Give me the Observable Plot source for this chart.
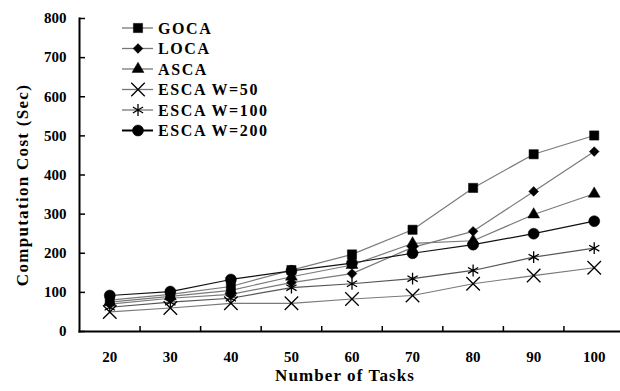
<!DOCTYPE html>
<html><head><meta charset="utf-8">
<script src="https://cdn.jsdelivr.net/npm/d3@7"></script>
<script src="https://cdn.jsdelivr.net/npm/@observablehq/plot@0.6"></script>
<style>
body{margin:0;background:#fff;}
#wrap{position:relative;width:620px;height:391px;}
#wrap svg text{font-family:"Liberation Serif","Times New Roman",serif;font-weight:bold;fill:#000;}
#legend{position:absolute;left:0;top:0;}
</style></head>
<body><div id="wrap"></div>
<script>
const tasks = [20, 30, 40, 50, 60, 70, 80, 90, 100];
const seriesNames = ["GOCA", "LOCA", "ASCA", "ESCA W=50", "ESCA W=100", "ESCA W=200"];
const goca   = [80, 95, 115, 157, 197, 260, 367, 453, 501];
const loca   = [70, 85, 95, 125, 148, 215, 256, 358, 460];
const asca   = [75, 90, 105, 140, 170, 225, 232, 299, 352];
const esca50 = [50, 60, 72, 72, 83, 92, 122, 143, 163];
const esca100= [62, 75, 85, 112, 122, 135, 156, 190, 213];
const esca200= [92, 102, 133, 155, 175, 200, 222, 250, 282];
const yTicks = [0, 100, 200, 300, 400, 500, 600, 700, 800];
const xTitle = "Number of Tasks";
const yTitle = "Computation Cost (Sec)";

const valuesBySeries = [goca, loca, asca, esca50, esca100, esca200];
const symbols = ["square", "diamond2", "triangle", "times", "asterisk", "circle"];
const filled = [true, true, true, false, false, true];
const lineColors = ["#7a7a7a", "#7a7a7a", "#7a7a7a", "#7a7a7a", "#555", "#111"];
const symR = [5.2, 4.4, 4.4, 6.2, 5.6, 5.5];

const data = [];
seriesNames.forEach((s, i) => tasks.forEach((t, j) => data.push({series: s, idx: i, x: t, y: valuesBySeries[i][j]})));
const boundaries = tasks.slice(0, -1).map(t => t + 5);

const marks = [
  Plot.frame({anchor: "left", stroke: "#000", strokeWidth: 2}),
  Plot.frame({anchor: "bottom", stroke: "#000", strokeWidth: 2}),
  Plot.axisY({ticks: yTicks, tickSize: -6, tickFormat: () => "", label: null, strokeWidth: 1.5}),
  Plot.axisY({ticks: yTicks, tickSize: 0, tickPadding: 13, fontSize: 15, label: null}),
  Plot.axisX({ticks: boundaries, tickSize: -5, tickFormat: () => "", label: null, strokeWidth: 1.5}),
  Plot.axisX({ticks: tasks, tickSize: 0, tickPadding: 20, fontSize: 15, label: null}),
  Plot.text([xTitle], {frameAnchor: "bottom", dy: 49, dx: -5, fontSize: 17, fontWeight: "bold"}),
  Plot.text([yTitle], {frameAnchor: "left", textAnchor: "middle", dx: -57, dy: 10, rotate: -90, fontSize: 17, fontWeight: "bold"})
];
seriesNames.forEach((s, i) => {
  const d = data.filter(p => p.idx === i);
  marks.push(Plot.line(d, {x: "x", y: "y", stroke: lineColors[i], strokeWidth: 1.2}));
});
seriesNames.forEach((s, i) => {
  const d = data.filter(p => p.idx === i);
  marks.push(Plot.dot(d, {x: "x", y: "y", symbol: () => symbols[i], r: symR[i],
    fill: filled[i] ? "#000" : "none", stroke: "#000", strokeWidth: filled[i] ? 0.5 : 1.3}));
});

const chart = Plot.plot({
  width: 620, height: 391,
  marginLeft: 79, marginTop: 18, marginBottom: 60, marginRight: 0,
  x: {type: "linear", domain: [15, 105], range: [79, 624]},
  y: {domain: [0, 800]},
  style: {fontFamily: "Liberation Serif", fontWeight: "bold", fontSize: "15px", background: "#fff", overflow: "visible"},
  marks
});
document.getElementById("wrap").appendChild(chart);
chart.querySelectorAll("text").forEach(t => {
  if (t.textContent === xTitle) t.style.letterSpacing = "1.1px";
  if (t.textContent === yTitle) t.style.letterSpacing = "1.3px";
});

// Legend (drawn inside the plot area, top-left)
const leg = d3.select("#wrap").append("svg").attr("id", "legend").attr("width", 320).attr("height", 150);
const rowY = [28, 48.5, 69, 89.5, 110, 130.5];
const symMap = {square: d3.symbolSquare, diamond2: d3.symbolDiamond2, triangle: d3.symbolTriangle,
  times: d3.symbolTimes, asterisk: d3.symbolAsterisk, circle: d3.symbolCircle};
seriesNames.forEach((s, i) => {
  const g = leg.append("g").attr("transform", `translate(0,${rowY[i]})`);
  g.append("line").attr("x1", 122).attr("x2", 153).attr("y1", 0).attr("y2", 0)
    .attr("stroke", i === 5 ? "#000" : "#777").attr("stroke-width", i === 5 ? 2 : 1.3);
  g.append("path").attr("transform", "translate(138,0)")
    .attr("d", d3.symbol(symMap[symbols[i]], Math.PI * symR[i] * symR[i])())
    .attr("fill", filled[i] ? "#000" : "none").attr("stroke", "#000").attr("stroke-width", filled[i] ? 0.5 : 1.3);
  g.append("text").attr("x", 158).attr("y", 0).attr("dy", "0.35em")
    .attr("font-size", 16).style("letter-spacing", "1.6px").text(s);
});
</script></body></html>
